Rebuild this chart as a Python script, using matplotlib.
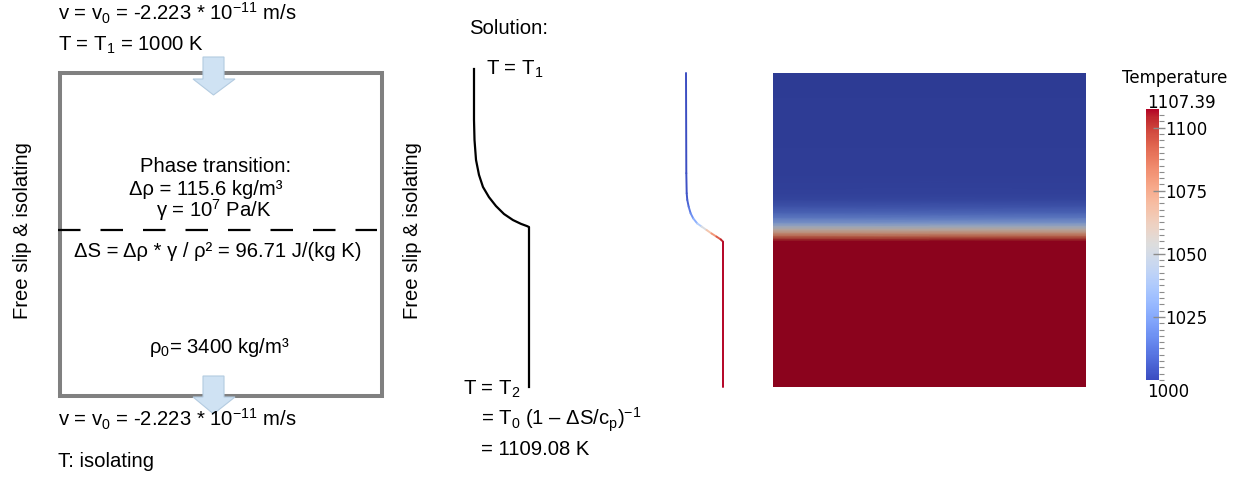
import numpy as np
import matplotlib
matplotlib.use('Agg')
import matplotlib.pyplot as plt
from matplotlib.patches import Polygon, Rectangle
from matplotlib.collections import LineCollection
from matplotlib.colors import Normalize, ListedColormap
from matplotlib.ticker import MultipleLocator
import matplotlib.cm as cm

plt.rcParams['font.family'] = ['Liberation Sans', 'DejaVu Sans']
plt.rcParams['mathtext.fontset'] = 'custom'
plt.rcParams['mathtext.rm'] = 'Liberation Sans'
plt.rcParams['mathtext.it'] = 'Liberation Sans:italic'
plt.rcParams['mathtext.bf'] = 'Liberation Sans:bold'
plt.rcParams['mathtext.default'] = 'regular'
plt.rcParams['lines.scale_dashes'] = False

# ---------------- data ----------------
# computed temperature profile (depth as fraction of model height, top = 0)
profile_depth = [0.0, 0.319, 0.383, 0.404, 0.426, 0.447, 0.463, 0.479,
                 0.489, 0.500, 0.511, 0.521, 0.530, 0.537, 1.0]
profile_T = [1000.0, 1000.9, 1002.0, 1003.7, 1007.8, 1013.5, 1021.0, 1032.5,
             1045.2, 1059.6, 1074.0, 1088.4, 1100.8, 1107.39, 1107.39]

# schematic "solution" sketch (T1 at top -> T2 at bottom)
sketch_depth = [0.0, 0.160, 0.223, 0.286, 0.333, 0.371, 0.403, 0.431,
                0.456, 0.475, 0.487, 0.494, 0.497, 1.0]
sketch_T = [1000.0, 1000.0, 1001.0, 1004.0, 1009.9, 1017.8, 1029.7, 1043.6,
            1059.5, 1077.3, 1093.2, 1105.1, 1109.08, 1109.08]

T_min, T_max = 1000.0, 1107.39
T2 = 1109.08
cbar_ticks = [1025, 1050, 1075, 1100]
cbar_title = "Temperature"

# ---------------- figure ----------------
W, H = 1245, 478
fig = plt.figure(figsize=(W / 100, H / 100), dpi=100)


def px_axes(x0, y0, x1, y1):
    return fig.add_axes([x0 / W, 1 - y1 / H, (x1 - x0) / W, (y1 - y0) / H])


ax = px_axes(0, 0, W, H)
ax.set_xlim(0, W)
ax.set_ylim(H, 0)
ax.axis('off')

FS = 14.6
TXT = dict(fontsize=FS, color='black')

# model box
ax.add_patch(Rectangle((60, 73), 322, 323, fill=False, ec='#808080', lw=2.9,
                       joinstyle='miter', zorder=2))
# phase transition dashed line
ax.plot([58, 377], [230, 230], color='black', lw=1.6, dashes=(16.2, 14.4),
        solid_capstyle='butt', dash_capstyle='butt', zorder=2)

# inflow arrows
arrow_fc, arrow_ec = '#cfe2f3', '#b3cbe0'
for top, head, tip in [(57, 79, 95), (376, 397, 414)]:
    pts = [(203, top), (224, top), (224, head), (235, head), (213.5, tip),
           (193, head), (203, head)]
    ax.add_patch(Polygon(pts, closed=True, fc=arrow_fc, ec=arrow_ec, lw=0.8,
                         zorder=3))

# left panel texts
ax.text(58, 20, r"v = v$_0$ = -2.223 * 10$^{-11}$ m/s", **TXT, va='baseline')
ax.text(58, 50.5, r"T = T$_1$ = 1000 K", **TXT, va='baseline')
ax.text(216, 172.5, "Phase transition:", **TXT, ha='center', va='baseline')
ax.text(206, 195, "Δρ = 115.6 kg/m³", **TXT, ha='center', va='baseline')
ax.text(214, 216.5, r"γ = 10$^7$ Pa/K", **TXT, ha='center', va='baseline')
ax.text(218, 257, "ΔS = Δρ * γ / ρ² = 96.71 J/(kg K)", **TXT, ha='center',
        va='baseline')
ax.text(219, 353, r"ρ$_0$= 3400 kg/m³", **TXT, ha='center', va='baseline')
ax.text(58, 427, r"v = v$_0$ = -2.223 * 10$^{-11}$ m/s", **TXT, va='baseline')
ax.text(58, 467, "T: isolating", **TXT, va='baseline')
for xb in (28, 418):
    ax.text(xb, 231, "Free slip & isolating", **TXT, rotation=90,
            rotation_mode='anchor', ha='center', va='baseline')

# solution texts
ax.text(469, 34, "Solution:", **TXT, va='baseline')
ax.text(486, 75, r"T = T$_1$", **TXT, va='baseline')
ax.text(463, 395, r"T = T$_2$", **TXT, va='baseline')
ax.text(481, 425, r"= T$_0$ (1 – ΔS/c$_p$)$^{-1}$", **TXT, va='baseline')
ax.text(481, 455, "= 1109.08 K", **TXT, va='baseline')

# schematic solution sketch
ax_s = px_axes(474, 69, 529, 387)
ax_s.set_xlim(T_min, T2)
ax_s.set_ylim(1, 0)
ax_s.axis('off')
ax_s.plot(sketch_T, sketch_depth, color='black', lw=1.6, clip_on=False,
          solid_joinstyle='round')

# computed profile line coloured by temperature
norm = Normalize(T_min, T_max)
ax_p = px_axes(686, 73, 723, 387)
ax_p.set_xlim(T_min, T_max)
ax_p.set_ylim(1, 0)
ax_p.axis('off')
pts = np.column_stack([profile_T, profile_depth])
segs = np.stack([pts[:-1], pts[1:]], axis=1)
seg_T = 0.5 * (np.array(profile_T[:-1]) + np.array(profile_T[1:]))
lc = LineCollection(segs, cmap='coolwarm', norm=norm, linewidths=1.4,
                    capstyle='round', clip_on=False)
lc.set_array(seg_T)
ax_p.add_collection(lc)

# temperature field (shaded render)
base = plt.get_cmap('coolwarm')(np.linspace(0, 1, 256))
base[:, :3] *= 0.77
dark_cmap = ListedColormap(base)
ax_h = px_axes(773, 73, 1086, 387)
Xg, Yg = np.meshgrid([0.0, 1.0], profile_depth)
Cg = np.column_stack([profile_T, profile_T])
ax_h.pcolormesh(Xg, Yg, Cg, shading='gouraud', cmap=dark_cmap, norm=norm)
ax_h.set_xlim(0, 1)
ax_h.set_ylim(1, 0)
ax_h.axis('off')

# colour bar
cax = px_axes(1146, 109, 1159, 380)
cb = fig.colorbar(cm.ScalarMappable(norm=norm, cmap='coolwarm'), cax=cax,
                  ticks=cbar_ticks)
cb.minorlocator = MultipleLocator(2.5)
cb.outline.set_visible(False)
cax.tick_params(which='major', direction='inout', length=8.6, width=1.0,
                color='#8c8c8c', pad=0)
cax.tick_params(which='minor', direction='out', length=3.6, width=0.8,
                color='#8c8c8c')
for lab in cax.get_yticklabels():
    lab.set_fontfamily('DejaVu Sans')
    lab.set_fontsize(12)
ax.text(1175, 83, cbar_title, fontsize=12, family='DejaVu Sans',
        ha='center', va='baseline')
ax.text(1147, 108, f"{T_max:.2f}", fontsize=12, family='DejaVu Sans',
        ha='left', va='baseline')
ax.text(1147, 397, f"{T_min:.0f}", fontsize=12, family='DejaVu Sans',
        ha='left', va='baseline')

fig.savefig('out.png', dpi=100)
